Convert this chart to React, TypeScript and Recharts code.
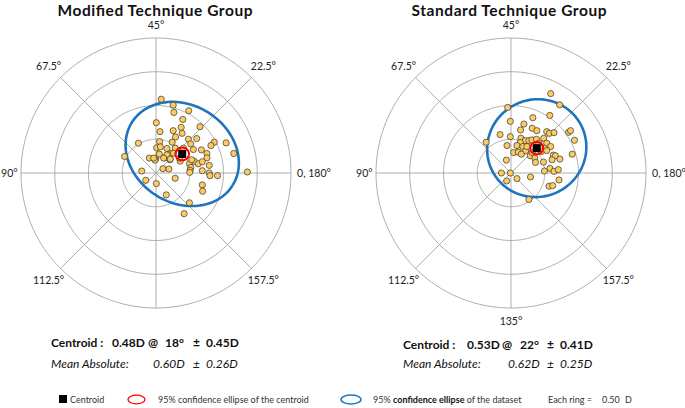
import React from 'react';
import { ScatterChart, Scatter, XAxis, YAxis, ReferenceDot } from 'recharts';

// ---------- data (double-angle plot coordinates, dioptres) ----------
const RING_VALUES = [0.5, 1.0, 1.5, 2.0];
const SPOKE_ANGLES = [0, 45, 90, 135];
const AXIS_LABELS = ['0, 180°', '22.5°', '45°', '67.5°', '90°', '112.5°', '135°', '157.5°'];
const AXIS_LABEL_ANGLES = [0, 45, 90, 135, 180, 225, 270, 315];

const TITLES = ['Modified Technique Group', 'Standard Technique Group'];

const modifiedPoints: [number, number][] = [
  [0.078, 1.093], [0.255, 1.005], [0.265, 0.897], [0.485, 0.922], [0.005, 0.745],
  [0.397, 0.794], [0.652, 0.686], [0.059, 0.613], [0.255, 0.627], [0.373, 0.676],
  [0.387, 0.588], [0.289, 0.534], [0.054, 0.466], [-0.26, 0.441], [0.24, 0.456],
  [0.48, 0.5], [0.603, 0.51], [0.515, 0.431], [0.863, 0.456], [0.814, 0.407],
  [1.039, 0.446], [0.01, 0.373], [0.064, 0.387], [0.162, 0.363], [0.284, 0.368],
  [0.407, 0.368], [0.554, 0.348], [0.672, 0.343], [1.152, 0.289], [-0.466, 0.245],
  [-0.098, 0.221], [-0.005, 0.206], [0.049, 0.279], [0.127, 0.225], [0.225, 0.289],
  [0.755, 0.289], [0.755, 0.225], [-0.015, 0.191], [0.206, 0.196], [0.358, 0.176],
  [0.495, 0.137], [0.569, 0.172], [0.627, 0.137], [0.686, 0.167], [0.515, 0.083],
  [0.505, 0.039], [0.5, 0.01], [0.789, 0.113], [0.103, 0.064], [0.191, 0.059],
  [-0.211, 0.029], [0.686, 0.034], [0.789, 0.0], [0.799, -0.039], [0.912, -0.039],
  [1.353, 0.015], [-0.152, -0.108], [0.284, -0.078], [0.005, -0.157], [0.686, -0.176],
  [0.691, -0.27], [0.152, -0.324], [0.495, -0.441], [0.417, -0.603], [0.162, 0.27],
  [0.211, 0.206], [0.529, 0.196], [0.113, 0.221], [-0.034, 0.221], [0.26, 0.294],
  [0.348, 0.221],
];

const standardPoints: [number, number][] = [
  [0.588, 1.176], [0.721, 1.01], [-0.049, 0.971], [0.574, 0.853], [0.324, 0.819],
  [-0.01, 0.765], [0.191, 0.725], [0.314, 0.662], [0.142, 0.637], [0.382, 0.627],
  [0.529, 0.613], [0.569, 0.588], [0.637, 0.598], [0.853, 0.603], [0.882, 0.627],
  [-0.162, 0.569], [-0.01, 0.539], [0.941, 0.485], [0.147, 0.515], [0.211, 0.48],
  [0.265, 0.48], [0.309, 0.49], [0.377, 0.5], [0.485, 0.515], [0.529, 0.441],
  [-0.368, 0.456], [-0.059, 0.407], [0.137, 0.451], [0.088, 0.407], [0.176, 0.392],
  [0.495, 0.368], [0.588, 0.392], [0.039, 0.304], [0.108, 0.309], [0.216, 0.328],
  [0.152, 0.279], [0.284, 0.255], [0.314, 0.304], [0.451, 0.319], [0.529, 0.333],
  [0.627, 0.265], [0.657, 0.255], [0.907, 0.279], [0.353, 0.221], [0.363, 0.157],
  [0.48, 0.162], [0.608, 0.196], [0.725, 0.206], [-0.069, 0.191], [0.578, 0.069],
  [0.637, 0.025], [0.701, 0.049], [0.495, 0.029], [-0.142, 0.0], [-0.01, 0.0],
  [-0.064, -0.118], [0.088, -0.083], [0.289, -0.059], [0.564, -0.196], [0.618, -0.186],
  [0.711, -0.103], [0.265, -0.392], [0.431, 0.392], [0.235, 0.392], [0.412, 0.441],
];

// centroid: magnitude (D) and axis (deg)
const CENTROID_MAG = [0.48, 0.53];
const CENTROID_AXIS = [18, 22];
const CENTROID_SD = ['0.45D', '0.41D'];
const MEAN_ABS = ['0.60D', '0.62D'];
const MEAN_ABS_SD = ['0.26D', '0.25D'];

// 95% confidence ellipses: [semi-major, semi-minor, tilt deg]
const CENTROID_ELLIPSE: [number, number, number][] = [[0.1, 0.094, 0], [0.095, 0.09, 0]];
const DATASET_ELLIPSE: [number, number, number][] = [[0.88, 0.725, -32], [0.74, 0.72, 30]];

const RING_STEP = '0.50';

// ---------- helpers ----------
const rad = (d: number) => (d * Math.PI) / 180;

function ringPoints(r: number) {
  const pts: { x: number; y: number }[] = [];
  for (let i = 0; i <= 180; i++) {
    const t = (i / 180) * 2 * Math.PI;
    pts.push({ x: r * Math.cos(t), y: r * Math.sin(t) });
  }
  return pts;
}

function ellipsePoints(cx: number, cy: number, a: number, b: number, phi: number) {
  const pts: { x: number; y: number }[] = [];
  const p = rad(phi);
  for (let i = 0; i <= 120; i++) {
    const t = (i / 120) * 2 * Math.PI;
    const ex = a * Math.cos(t);
    const ey = b * Math.sin(t);
    pts.push({ x: cx + ex * Math.cos(p) - ey * Math.sin(p), y: cy + ex * Math.sin(p) + ey * Math.cos(p) });
  }
  return pts;
}

const noDot = () => <g />;
const GRID = '#A6A6A6';
const FONT = 'Lato, "Open Sans", sans-serif';

function PolarPlot({ idx, showBottomLabel }: { idx: number; showBottomLabel: boolean }) {
  const points = (idx === 0 ? modifiedPoints : standardPoints).map(([x, y]) => ({ x, y }));
  const m = CENTROID_MAG[idx];
  const ax = rad(2 * CENTROID_AXIS[idx]);
  const centroid = { x: m * Math.cos(ax), y: m * Math.sin(ax) };
  const [ca, cb, cphi] = CENTROID_ELLIPSE[idx];
  const [da, db, dphi] = DATASET_ELLIPSE[idx];
  const rMax = RING_VALUES[RING_VALUES.length - 1];

  return (
    <ScatterChart width={350} height={350} margin={{ top: 40, right: 40, bottom: 40, left: 40 }}>
      <XAxis type="number" dataKey="x" domain={[-rMax, rMax]} hide />
      <YAxis type="number" dataKey="y" domain={[-rMax, rMax]} hide />
      {RING_VALUES.map((r) => (
        <Scatter key={'ring' + r} data={ringPoints(r)} line={{ stroke: GRID, strokeWidth: 0.9 }} shape={noDot} isAnimationActive={false} legendType="none" />
      ))}
      {SPOKE_ANGLES.map((a) => (
        <Scatter
          key={'spoke' + a}
          data={[
            { x: -rMax * Math.cos(rad(a)), y: -rMax * Math.sin(rad(a)) },
            { x: rMax * Math.cos(rad(a)), y: rMax * Math.sin(rad(a)) },
          ]}
          line={{ stroke: GRID, strokeWidth: 0.9 }}
          shape={noDot}
          isAnimationActive={false}
          legendType="none"
        />
      ))}
      <Scatter data={ellipsePoints(centroid.x, centroid.y, da, db, dphi)} line={{ stroke: '#1F74BD', strokeWidth: 2.6 }} shape={noDot} isAnimationActive={false} legendType="none" />
      <Scatter
        data={points}
        isAnimationActive={false}
        shape={(p: any) => <circle cx={p.cx} cy={p.cy} r={3.1} fill="#FCCB62" stroke="#333" strokeWidth={0.7} />}
      />
      <Scatter
        data={[centroid]}
        isAnimationActive={false}
        shape={(p: any) => <rect x={p.cx - 4} y={p.cy - 4} width={8} height={8} fill="#000" />}
      />
      <Scatter data={ellipsePoints(centroid.x, centroid.y, ca, cb, cphi)} line={{ stroke: '#FF0000', strokeWidth: 2 }} shape={noDot} isAnimationActive={false} legendType="none" />
      {AXIS_LABELS.map((label, i) => {
        const a = AXIS_LABEL_ANGLES[i];
        if (a === 270 && !showBottomLabel) return null;
        const horiz = a === 0 || a === 180;
        const vert = a === 90 || a === 270;
        const r = a === 180 ? 2.05 : horiz ? 2.09 : vert ? 2.19 : 2.25;
        const anchor = a === 0 ? 'start' : a === 180 ? 'end' : 'middle';
        return (
          <ReferenceDot
            key={label}
            x={r * Math.cos(rad(a))}
            y={r * Math.sin(rad(a))}
            ifOverflow="visible"
            shape={(p: any) => (
              <text x={p.cx} y={p.cy} textAnchor={anchor} dominantBaseline="central" fontSize={10.5} fontFamily={FONT} fill="#222">
                {label}
              </text>
            )}
          />
        );
      })}
    </ScatterChart>
  );
}

function Stats({ idx, x0, cols, y1, y2 }: { idx: number; x0: number; cols: number[]; y1: number; y2: number }) {
  return (
    <g fontFamily={FONT} fill="#111">
      <text y={y1} fontSize={12} fontWeight="bold">
        <tspan x={x0}>Centroid :</tspan>
        <tspan x={cols[0]}>{CENTROID_MAG[idx].toFixed(2)}D</tspan>
        <tspan x={cols[1]}>@</tspan>
        <tspan x={cols[2]}>{CENTROID_AXIS[idx]}°</tspan>
        <tspan x={cols[3]}>±</tspan>
        <tspan x={cols[4]}>{CENTROID_SD[idx]}</tspan>
      </text>
      <text y={y2} fontSize={12} fontStyle="italic">
        <tspan x={x0}>Mean Absolute:</tspan>
        <tspan x={cols[5]}>{MEAN_ABS[idx]}</tspan>
        <tspan x={cols[3]}>±</tspan>
        <tspan x={cols[4]}>{MEAN_ABS_SD[idx]}</tspan>
      </text>
    </g>
  );
}

export default function App() {
  return (
    <div style={{ position: 'absolute', left: 0, top: 0, width: 685, height: 408, background: '#fff', overflow: 'hidden' }}>
      <div style={{ position: 'absolute', left: 155.5 - 175, top: 173.3 - 175 }}>
        <PolarPlot idx={0} showBottomLabel={false} />
      </div>
      <div style={{ position: 'absolute', left: 510.7 - 175, top: 173.3 - 175 }}>
        <PolarPlot idx={1} showBottomLabel={true} />
      </div>
      <svg width={685} height={408} style={{ position: 'absolute', left: 0, top: 0, pointerEvents: 'none' }}>
        <text x={155} y={15.5} textAnchor="middle" fontSize={15.5} fontWeight="bold" fontFamily={FONT} fill="#111" textLength={195} lengthAdjust="spacing">{TITLES[0]}</text>
        <text x={509} y={15.5} textAnchor="middle" fontSize={15.5} fontWeight="bold" fontFamily={FONT} fill="#111" textLength={195} lengthAdjust="spacing">{TITLES[1]}</text>
        <Stats idx={0} x0={51} cols={[112, 148, 165, 193, 206, 153]} y1={347} y2={368} />
        <Stats idx={1} x0={403} cols={[467, 502, 520, 547, 560, 508]} y1={349} y2={368} />
        <g fontFamily={FONT} fontSize={9} fill="#333">
          <rect x={59} y={395} width={8} height={8} fill="#000" />
          <text x={70} y={403}>Centroid</text>
          <ellipse cx={136.5} cy={399.5} rx={8.5} ry={4.3} fill="none" stroke="#FF0000" strokeWidth={1.3} />
          <text x={158} y={403}>95% confidence ellipse of  the centroid</text>
          <ellipse cx={351} cy={399.5} rx={10} ry={4.5} fill="none" stroke="#1F74BD" strokeWidth={1.5} />
          <text x={373} y={403}>
            95% <tspan fill="#111" fontWeight="bold">confidence ellipse</tspan> of the dataset
          </text>
          <text x={548} y={403}>Each ring =</text>
          <text x={602} y={403}>{RING_STEP}</text>
          <text x={625} y={403}>D</text>
        </g>
      </svg>
    </div>
  );
}
